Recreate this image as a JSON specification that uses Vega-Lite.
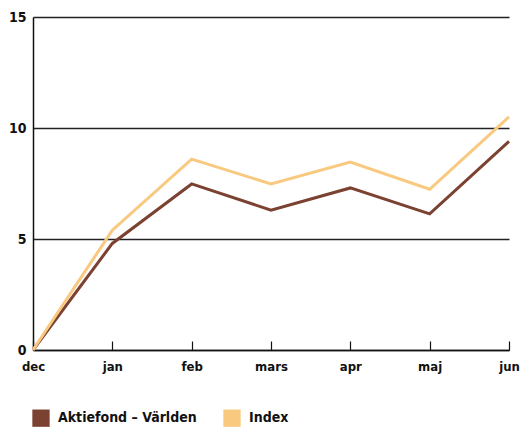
{
  "$schema": "https://vega.github.io/schema/vega-lite/v6.json",
  "width": 476,
  "height": 333,
  "autosize": {"type": "none"},
  "padding": {"left": 33, "top": 17, "right": 11, "bottom": 80},
  "background": "white",
  "config": {
    "view": {"stroke": null},
    "font": "DejaVu Sans Condensed"
  },
  "data": {
    "values": [
      {"month": "dec", "series": "Aktiefond – Världen", "value": 0},
      {"month": "jan", "series": "Aktiefond – Världen", "value": 4.8},
      {"month": "feb", "series": "Aktiefond – Världen", "value": 7.48},
      {"month": "mars", "series": "Aktiefond – Världen", "value": 6.3},
      {"month": "apr", "series": "Aktiefond – Världen", "value": 7.3},
      {"month": "maj", "series": "Aktiefond – Världen", "value": 6.13},
      {"month": "jun", "series": "Aktiefond – Världen", "value": 9.4},
      {"month": "dec", "series": "Index", "value": 0},
      {"month": "jan", "series": "Index", "value": 5.4},
      {"month": "feb", "series": "Index", "value": 8.6},
      {"month": "mars", "series": "Index", "value": 7.48},
      {"month": "apr", "series": "Index", "value": 8.47},
      {"month": "maj", "series": "Index", "value": 7.24},
      {"month": "jun", "series": "Index", "value": 10.5}
    ]
  },
  "mark": {"type": "line", "strokeWidth": 3},
  "encoding": {
    "x": {
      "field": "month",
      "type": "ordinal",
      "sort": ["dec", "jan", "feb", "mars", "apr", "maj", "jun"],
      "scale": {"type": "point", "padding": 0},
      "axis": {
        "title": null,
        "labelAngle": 0,
        "labelFont": "DejaVu Sans Condensed",
        "labelFontWeight": "bold",
        "labelFontSize": 13,
        "labelColor": "#111",
        "labelPadding": 19,
        "domainColor": "#111",
        "domainWidth": 1.5,
        "tickColor": "#111",
        "tickSize": -9,
        "tickWidth": 1.2,
        "grid": false
      }
    },
    "y": {
      "field": "value",
      "type": "quantitative",
      "scale": {"domain": [0, 15], "nice": false},
      "axis": {
        "title": null,
        "values": [0, 5, 10, 15],
        "ticks": false,
        "labelFont": "DejaVu Sans Condensed",
        "labelFontWeight": "bold",
        "labelFontSize": 14,
        "labelColor": "#111",
        "labelPadding": 7,
        "domainColor": "#111",
        "domainWidth": 1.5,
        "gridColor": "#222",
        "gridWidth": 1.3,
        "gridOpacity": 1
      }
    },
    "color": {
      "field": "series",
      "type": "nominal",
      "scale": {"domain": ["Aktiefond – Världen", "Index"], "range": ["#7B4131", "#F8C97F"]},
      "legend": {
        "title": null,
        "orient": "none",
        "legendX": -1,
        "legendY": 392,
        "direction": "horizontal",
        "symbolType": "square",
        "symbolSize": 300,
        "symbolStrokeWidth": 0,
        "labelFont": "DejaVu Sans Condensed",
        "labelFontWeight": "bold",
        "labelFontSize": 14,
        "labelColor": "#111",
        "columnPadding": 26,
        "labelOffset": 8,
        "encode": {
          "symbols": {
            "update": {
              "fill": {"field": "value", "scale": "color"},
              "fillOpacity": {"value": 1}
            }
          }
        }
      }
    }
  }
}
